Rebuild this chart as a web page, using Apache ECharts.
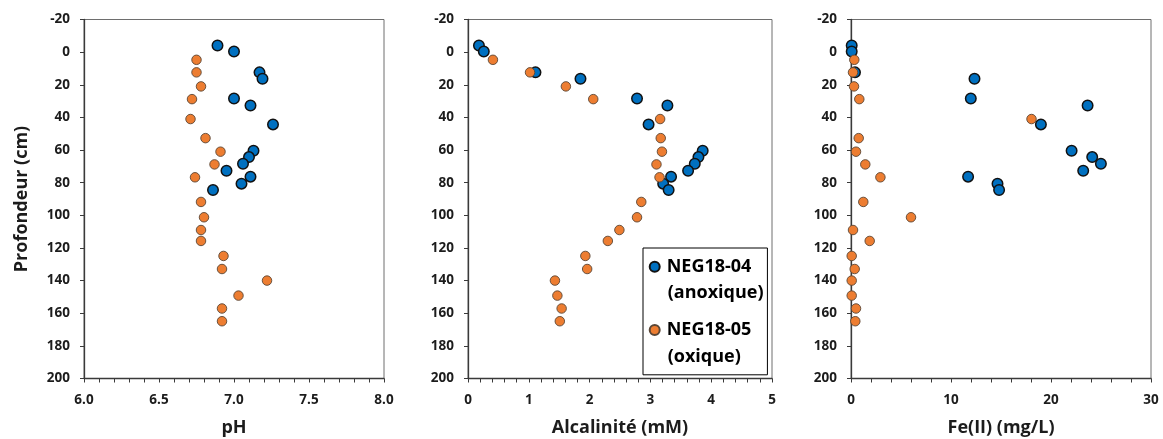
<!DOCTYPE html>
<html>
<head>
<meta charset="utf-8">
<script src="https://cdn.jsdelivr.net/npm/echarts@6/dist/echarts.min.js"></script>
<style>
html,body{margin:0;padding:0;background:#fff;}
#c{width:1163px;height:439px;}
</style>
</head>
<body>
<div id="c"></div>
<script>
// ---- data ----
const seriesNames = ['NEG18-04 (anoxique)', 'NEG18-05 (oxique)'];
const depthAnox = [-4.1, -0.4, 12.4, 16.3, 28.4, 32.7, 44.3, 60.4, 64.3, 68.4, 72.7, 76.3, 80.6, 84.5];
const phAnox    = [6.89, 7.00, 7.17, 7.19, 7.00, 7.11, 7.26, 7.13, 7.10, 7.06, 6.95, 7.11, 7.05, 6.86];
const alkAnox   = [0.18, 0.26, 1.11, 1.85, 2.78, 3.28, 2.97, 3.86, 3.79, 3.73, 3.62, 3.34, 3.21, 3.30];
const feAnox    = [0.07, 0.07, 0.40, 12.35, 11.98, 23.66, 18.99, 22.06, 24.12, 24.99, 23.22, 11.71, 14.65, 14.81];

const depthOx = [4.7, 12.4, 21.0, 28.8, 41.0, 52.7, 61.0, 68.8, 76.7, 91.8, 101.2, 109.0, 115.7, 124.9, 132.9, 140.0, 149.2, 157.1, 164.9];
const phOx    = [6.75, 6.75, 6.78, 6.72, 6.71, 6.81, 6.91, 6.87, 6.74, 6.78, 6.80, 6.78, 6.78, 6.93, 6.92, 7.22, 7.03, 6.92, 6.92];
const alkOx   = [0.41, 1.02, 1.61, 2.06, 3.16, 3.17, 3.19, 3.10, 3.15, 2.85, 2.78, 2.49, 2.30, 1.93, 1.96, 1.43, 1.47, 1.54, 1.51];
const feOx    = [0.33, 0.20, 0.30, 0.83, 18.05, 0.77, 0.50, 1.43, 2.94, 1.23, 6.00, 0.20, 1.87, 0.07, 0.37, 0.07, 0.07, 0.50, 0.43];

const xNames = ['pH', 'Alcalinité (mM)', 'Fe(II) (mg/L)'];
const xMin = [6, 0, 0];
const xMax = [8, 5, 30];
const xInterval = [0.5, 1, 10];
const xDecimals = [1, 0, 0];
const yName = 'Profondeur (cm)';
const yMin = -20, yMax = 200, yInterval = 20;

// ---- styling ----
const FONT = '"Open Sans", "Noto Sans", sans-serif';
const TXT = '#1c1c1c';
const AX = '#3a3a3a';
const BLUE = '#0070C0';
const ORANGE = '#ED7D31';

const gridPos = [
  {left: 84, width: 300},
  {left: 468, width: 304},
  {left: 851, width: 300}
];

const grids = gridPos.map(g => ({
  left: g.left, width: g.width, top: 19.5, height: 359,
  outerBoundsMode: 'none', containLabel: false,
  show: true, borderColor: '#6e6e6e', borderWidth: 1, backgroundColor: 'transparent'
}));

const xAxes = xNames.map((n, i) => ({
  type: 'value', gridIndex: i, min: xMin[i], max: xMax[i], interval: xInterval[i],
  name: n, nameLocation: 'middle', nameGap: 40,
  nameTextStyle: {fontFamily: FONT, fontWeight: 'bold', fontSize: 18, color: TXT},
  axisLine: {show: true, onZero: false, lineStyle: {color: AX, width: 1.3}},
  axisTick: {show: true, inside: false, length: 4, lineStyle: {color: AX, width: 1}},
  minorTick: {show: true, splitNumber: 5, length: 4, lineStyle: {color: AX, width: 1}},
  splitLine: {show: false},
  axisLabel: {margin: 15, fontFamily: FONT, fontWeight: 'bold', fontSize: 13.5, color: TXT,
    formatter: v => v.toFixed(xDecimals[i])}
}));

const yAxes = [0, 1, 2].map(i => ({
  type: 'value', gridIndex: i, min: yMin, max: yMax, interval: yInterval, inverse: true,
  name: i === 0 ? yName : '', nameLocation: 'middle', nameGap: 53, nameRotate: 90,
  nameTextStyle: {fontFamily: FONT, fontWeight: 'bold', fontSize: 18, color: TXT},
  axisLine: {show: true, onZero: false, lineStyle: {color: AX, width: 1.3}},
  axisTick: {show: true, inside: false, length: 4, lineStyle: {color: AX, width: 1}},
  splitLine: {show: false},
  axisLabel: {margin: 14, fontFamily: FONT, fontWeight: 'bold', fontSize: 13.5, color: TXT}
}));

function pairs(xs, ys) { return xs.map((x, k) => [x, ys[k]]); }

const anoxX = [phAnox, alkAnox, feAnox];
const oxX = [phOx, alkOx, feOx];
const series = [];
for (let i = 0; i < 3; i++) {
  series.push({
    name: seriesNames[0], type: 'scatter', xAxisIndex: i, yAxisIndex: i,
    data: pairs(anoxX[i], depthAnox), symbol: 'circle', symbolSize: 10.5,
    itemStyle: {color: BLUE, borderColor: '#111', borderWidth: 1.5, opacity: 1},
    emphasis: {disabled: true}, z: 3
  });
}
for (let i = 0; i < 3; i++) {
  series.push({
    name: seriesNames[1], type: 'scatter', xAxisIndex: i, yAxisIndex: i,
    data: pairs(oxX[i], depthOx), symbol: 'circle', symbolSize: 9.5,
    itemStyle: {color: ORANGE, borderColor: '#5a4636', borderWidth: 0.9, opacity: 1},
    emphasis: {disabled: true}, z: 4
  });
}

// legend geometry
const LG = {left: 643, top: 248, padL: 5.7, padT: 5.5, padR: 16, padB: 31.5, iconW: 14, lineH: 26.5, gap: 36.8, fs: 18};
const textX = LG.left + LG.padL + LG.iconW + 5;
const line1Y = LG.top + LG.padT + LG.lineH / 2;

const option = {
  animation: false,
  backgroundColor: '#ffffff',
  grid: grids,
  xAxis: xAxes,
  yAxis: yAxes,
  series: series,
  legend: {
    data: seriesNames, orient: 'vertical', left: LG.left, top: LG.top,
    padding: [LG.padT, LG.padR, LG.padB, LG.padL], itemGap: LG.gap,
    itemWidth: LG.iconW, itemHeight: 10, icon: 'circle',
    backgroundColor: '#ffffff', borderColor: '#000000', borderWidth: 1,
    selectedMode: false,
    formatter: n => n.split(' ')[0],
    textStyle: {fontFamily: FONT, fontWeight: 'bold', fontSize: LG.fs, color: '#000', lineHeight: LG.lineH}
  },
  graphic: [
    {type: 'text', left: textX, top: line1Y + LG.lineH / 2, z: 100,
      style: {text: seriesNames[0].split(' ')[1], font: 'bold ' + LG.fs + 'px ' + FONT, fill: '#000', lineHeight: LG.lineH}},
    {type: 'text', left: textX, top: line1Y + LG.lineH + LG.gap + LG.lineH / 2, z: 100,
      style: {text: seriesNames[1].split(' ')[1], font: 'bold ' + LG.fs + 'px ' + FONT, fill: '#000', lineHeight: LG.lineH}}
  ]
};

const chart = echarts.init(document.getElementById('c'), null, {renderer: 'canvas'});
chart.setOption(option);
</script>
</body>
</html>
